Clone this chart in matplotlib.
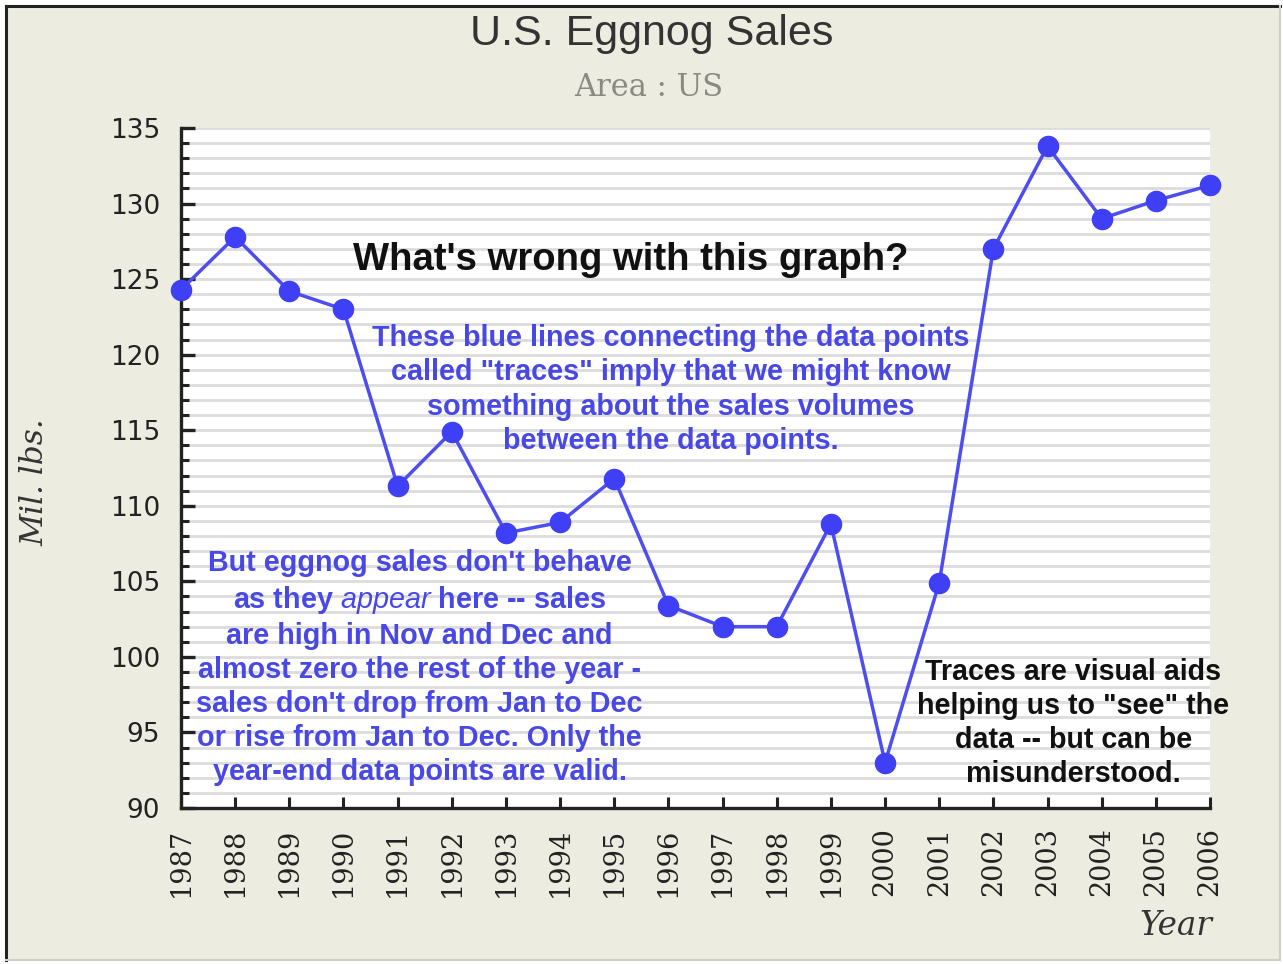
import matplotlib
matplotlib.use("Agg")
import matplotlib.pyplot as plt
from matplotlib.patches import Rectangle
from matplotlib.ticker import MultipleLocator

years = list(range(1987, 2007))
sales = [124.3, 127.8, 124.2, 123.0, 111.3, 114.9, 108.2, 108.9, 111.8, 103.4,
         102.0, 102.0, 108.8, 93.0, 104.9, 127.0, 133.8, 129.0, 130.2, 131.2]
y_ticks = [90, 95, 100, 105, 110, 115, 120, 125, 130, 135]

title = "U.S. Eggnog Sales"
subtitle = "Area : US"
question = "What's wrong with this graph?"
note1 = ('These blue lines connecting the data points\n'
         'called "traces" imply that we might know\n'
         'something about the sales volumes\n'
         'between the data points.')
note2 = ("But eggnog sales don't behave\n"
         "as they $\\mathit{appear}$ here -- sales\n"
         "are high in Nov and Dec and\n"
         "almost zero the rest of the year -\n"
         "sales don't drop from Jan to Dec\n"
         "or rise from Jan to Dec. Only the\n"
         "year-end data points are valid.")
note3 = ('Traces are visual aids\n'
         'helping us to "see" the\n'
         'data -- but can be\n'
         'misunderstood.')

plt.rcParams['mathtext.fontset'] = 'custom'
plt.rcParams['mathtext.it'] = 'Liberation Sans:italic'
plt.rcParams['mathtext.rm'] = 'Liberation Sans:bold'

W, H = 1283, 964
fig = plt.figure(figsize=(W / 100, H / 100), dpi=100)
fig.patch.set_facecolor('white')

# outer panel
fig.add_artist(Rectangle((6 / W, 4 / H), (1280 - 6) / W, (958 - 4) / H,
                         transform=fig.transFigure, facecolor='#edece1',
                         edgecolor='none', zorder=-10))
fig.add_artist(plt.Line2D([6 / W, 6 / W], [4 / H, 1 - 6 / H], transform=fig.transFigure,
                          color='#222222', lw=2.2, zorder=-5))
fig.add_artist(plt.Line2D([6 / W, 1280 / W], [1 - 6 / H, 1 - 6 / H], transform=fig.transFigure,
                          color='#222222', lw=2.2, zorder=-5))
fig.add_artist(plt.Line2D([1280 / W, 1280 / W], [4 / H, 1 - 6 / H], transform=fig.transFigure,
                          color='#cfcfc8', lw=1.5, zorder=-5))
fig.add_artist(plt.Line2D([6 / W, 1280 / W], [4 / H, 4 / H], transform=fig.transFigure,
                          color='#cfcfc8', lw=1.5, zorder=-5))

left, right, top, bottom = 181, 1210, 128, 808
ax = fig.add_axes([left / W, 1 - bottom / H, (right - left) / W, (bottom - top) / H])
ax.set_facecolor('white')
ax.set_xlim(1987, 2006)
ax.set_ylim(90, 135)

ax.set_yticks(y_ticks)
ax.yaxis.set_minor_locator(MultipleLocator(1))
ax.set_xticks(years)
ax.set_xticklabels([str(y) for y in years], rotation=90,
                   fontfamily='DejaVu Serif', fontsize=19.5, color='#222222')
ax.set_yticklabels([str(v) for v in y_ticks], fontfamily='DejaVu Sans',
                   fontsize=19, color='#222222')

ax.grid(True, which='both', axis='y', color='#dcdcdc', lw=2, zorder=0)
ax.set_axisbelow(True)

for s in ['top', 'right']:
    ax.spines[s].set_visible(False)
for s in ['left', 'bottom']:
    ax.spines[s].set_color('#222222')
    ax.spines[s].set_linewidth(2.4)

ax.tick_params(axis='y', which='major', direction='in', length=10, width=2.4,
               color='#222222', pad=15)
ax.tick_params(axis='y', which='minor', direction='in', length=6, width=2.2,
               color='#222222')
ax.tick_params(axis='x', which='major', direction='in', length=8, width=2.2,
               color='#222222', pad=14)
ax.tick_params(axis='x', which='minor', bottom=False)

ax.plot(years, sales, color='#4d4df0', lw=2.5, marker='o', markersize=14.5,
        markerfacecolor='#3f3ff5', markeredgecolor='#3f3ff5', clip_on=False, zorder=5)

fig.text(0.5 * (468 + 835) / W, 1 - 34 / H, title, ha='center', va='center',
         fontfamily='Liberation Sans', fontsize=31, color='#333333')
fig.text(0.5 * (573 + 724) / W, 1 - 88 / H, subtitle, ha='center', va='center',
         fontfamily='DejaVu Serif', fontsize=22, color='#8a8a82')
fig.text(35 / W, 1 - 482 / H, 'Mil. lbs.', rotation=90, ha='center', va='center',
         fontfamily='DejaVu Serif', fontstyle='italic', fontsize=22.5, color='#333333')
fig.text(1212 / W, 1 - 926 / H, 'Year', ha='right', va='center',
         fontfamily='DejaVu Serif', fontstyle='italic', fontsize=23.5, color='#333333')

blue = '#4848e6'
ax.text(0.437, 0.806, question, transform=ax.transAxes, ha='center', va='center',
        fontfamily='Liberation Sans', fontweight='bold', fontsize=27.5, color='#111111',
        zorder=6)
ax.text(0.476, 0.6154, note1, transform=ax.transAxes, ha='center', va='center',
        multialignment='center', linespacing=1.29,
        fontfamily='Liberation Sans', fontweight='bold', fontsize=20.7, color=blue, zorder=6)
ax.text(0.232, 0.2066, note2, transform=ax.transAxes, ha='center', va='center',
        multialignment='center', linespacing=1.27,
        fontfamily='Liberation Sans', fontweight='bold', fontsize=20.7, color=blue, zorder=6)
ax.text(0.867, 0.125, note3, transform=ax.transAxes, ha='center', va='center',
        multialignment='center', linespacing=1.27,
        fontfamily='Liberation Sans', fontweight='bold', fontsize=20.6, color='#111111',
        zorder=6)

fig.savefig('out.png', dpi=100, facecolor=fig.get_facecolor())
